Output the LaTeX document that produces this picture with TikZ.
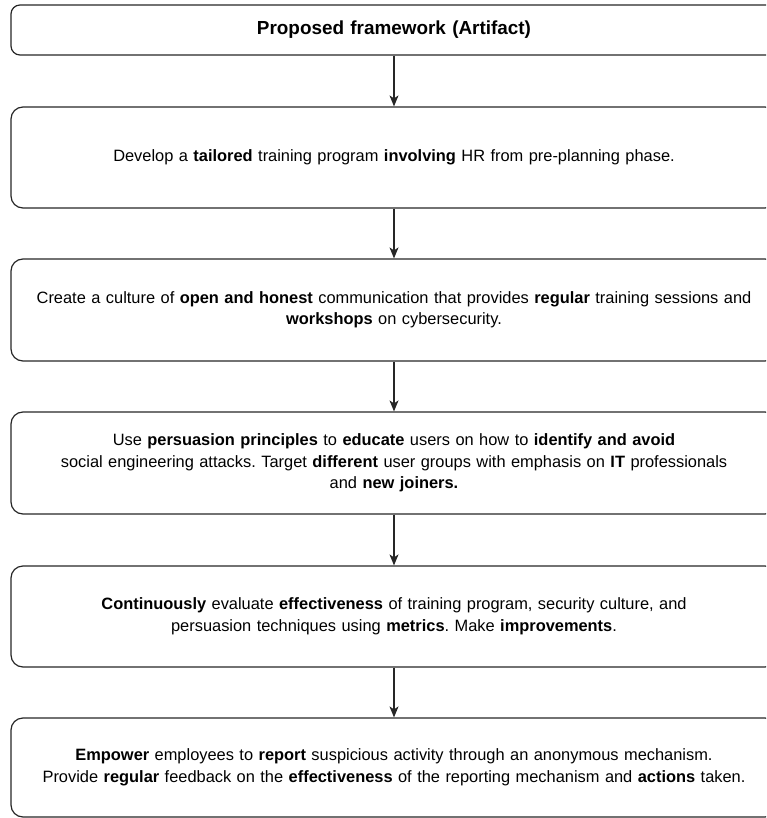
\documentclass[tikz,border=0pt]{standalone}
\usepackage{fontspec}
\setmainfont{Liberation Sans}
\usetikzlibrary{arrows.meta}
\begin{document}
\frenchspacing
\begin{tikzpicture}[x=1pt,y=-1pt,
  stepbox/.style={draw=black!85, line width=1.2pt, rounded corners=12pt,
    minimum width=766pt, text width=750pt, align=center, inner sep=0pt,
    font=\fontsize{16.4}{21.5}\selectfont},
  titlebox/.style={stepbox, rounded corners=9pt, font=\bfseries\fontsize{18.9}{22}\selectfont},
  flow/.style={draw=black!85, line width=1.2pt,
    -{Stealth[length=11pt,width=9pt,inset=3pt]}}]
\useasboundingbox (0,0) rectangle (766,818);
\clip (0,0) rectangle (766,818);

\node[titlebox, minimum height=50pt] (b1) at (394,30) {Proposed framework (Artifact)};

\node[stepbox, minimum height=101pt] (b2) at (394,157.5)
  {Develop a \textbf{tailored} training program \textbf{involving} HR from pre-planning phase.};

\node[stepbox, minimum height=102pt] (b3) at (394,310)
  {Create a culture of \textbf{open and honest} communication that provides \textbf{regular} training sessions and\\
   \textbf{workshops} on cybersecurity.};

\node[stepbox, minimum height=102pt] (b4) at (394,463)
  {Use \textbf{persuasion principles} to \textbf{educate} users on how to \textbf{identify and avoid}\\
   social engineering attacks. Target \textbf{different} user groups with emphasis on \textbf{IT} professionals\\
   and \textbf{new joiners.}};

\node[stepbox, minimum height=101pt] (b5) at (394,616.5)
  {\textbf{Continuously} evaluate \textbf{effectiveness} of training program, security culture, and\\
   persuasion techniques using \textbf{metrics}. Make \textbf{improvements}.};

\node[stepbox, minimum height=99pt] (b6) at (394,767.5)
  {\textbf{Empower} employees to \textbf{report} suspicious activity through an anonymous mechanism.\\
   Provide \textbf{regular} feedback on the \textbf{effectiveness} of the reporting mechanism and \textbf{actions} taken.};

\draw[flow] (b1) -- (b2);
\draw[flow] (b2) -- (b3);
\draw[flow] (b3) -- (b4);
\draw[flow] (b4) -- (b5);
\draw[flow] (b5) -- (b6);
\end{tikzpicture}
\end{document}
